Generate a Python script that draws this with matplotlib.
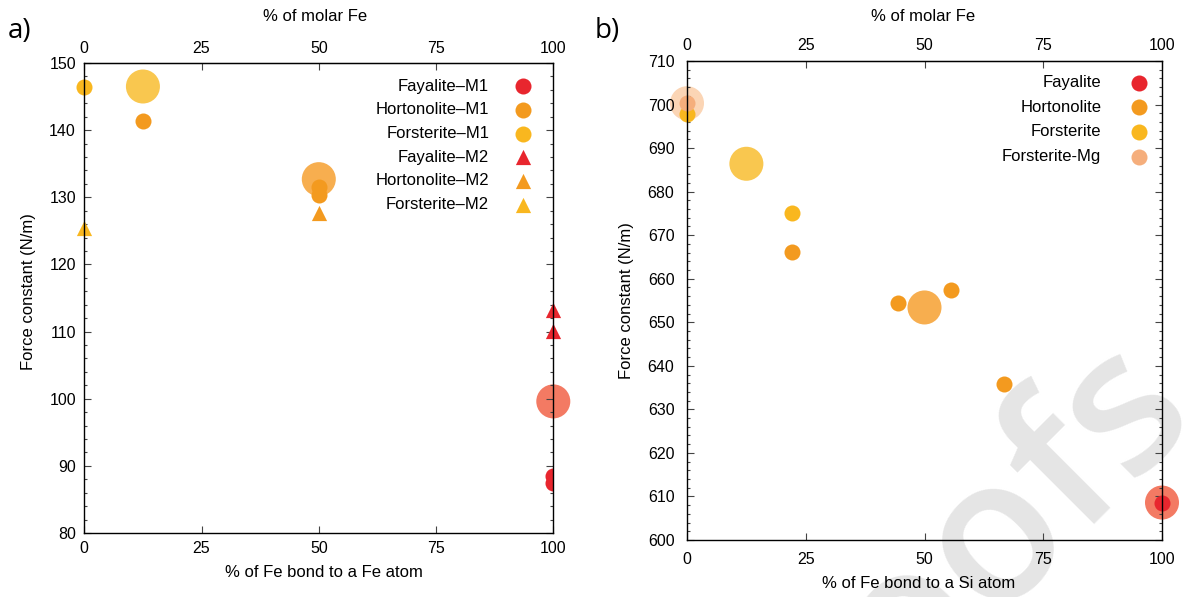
import matplotlib.pyplot as plt

plt.rcParams["font.family"] = ["Liberation Sans", "DejaVu Sans"]

RED = "#e8262e"
ORANGE = "#f39a1f"
YELLOW = "#f9b71f"
PEACH = "#f5ae7c"

# panel a) : % of Fe bonded to Fe atom vs force constant
fay_m1_x = [100, 100]
fay_m1_y = [88.5, 87.4]
hor_m1_x = [12.5, 50, 50]
hor_m1_y = [141.3, 131.6, 130.4]
for_m1_x = [0]
for_m1_y = [146.5]
fay_m2_x = [100, 100]
fay_m2_y = [113.2, 110.1]
hor_m2_x = [50]
hor_m2_y = [127.6]
for_m2_x = [0]
for_m2_y = [125.4]
# averages (big translucent circles)
avg_a_x = [100, 50, 12.5]
avg_a_y = [99.6, 132.7, 146.5]
avg_a_c = ["#f37a63", "#f7ae4f", "#f9c74f"]

# panel b) : % of Fe bonded to Si atom vs force constant
fay_x = [100]
fay_y = [608.6]
hor_x = [22.2, 44.4, 55.6, 66.7]
hor_y = [666.2, 654.4, 657.5, 635.8]
for_x = [0, 22.2]
for_y = [697.9, 675.0]
formg_x = [0]
formg_y = [700.4]
avg_b_x = [100, 50, 12.5, 0]
avg_b_y = [608.6, 653.4, 686.4, 700.3]
avg_b_c = ["#f37a63", "#f7ae4f", "#f9c74f", "#fbd5b5"]

xticks = [0, 25, 50, 75, 100]

SMALL = 133
BIG = 600
TRI = 120

fig = plt.figure(figsize=(11.84, 5.97), dpi=100)
ax1 = fig.add_axes([84.3 / 1184, 1 - 533 / 597, 469 / 1184, 470 / 597])
ax2 = fig.add_axes([687 / 1184, 1 - 540 / 597, 475 / 1184, 479 / 597])

# watermark behind everything
fig.text(939 / 1184, 1 - 588 / 597, "Proofs", fontsize=144, color="#e5e5e5",
         family=["Open Sans", "DejaVu Sans"], weight="semibold",
         rotation=45, rotation_mode="anchor", ha="center", va="center", zorder=-1)


def style(ax, ylim, ymajor, ypad, xpad, toppad):
    ax.set_facecolor("none")
    ax.set_xlim(0, 100)
    ax.set_ylim(*ylim)
    ax.set_xticks(xticks)
    ax.set_yticks(range(ylim[0], ylim[1] + 1, ymajor))
    ax.set_yticks(range(ylim[0], ylim[1] + 1, 2), minor=True)
    ax.tick_params(axis="both", which="both", direction="in", labelsize=11.5,
                   color="#444444", width=0.8)
    ax.tick_params(axis="y", which="both", right=True, pad=ypad)
    ax.tick_params(axis="x", pad=xpad, top=False)
    ax.tick_params(which="major", length=5)
    ax.tick_params(which="minor", length=2.5)
    for sp in ax.spines.values():
        sp.set_linewidth(1.0)
    sec = ax.secondary_xaxis("top")
    sec.set_xticks(xticks)
    sec.tick_params(direction="in", length=5, labelsize=11.5, color="#444444",
                    width=0.8, pad=toppad)
    return sec


sec1 = style(ax1, (80, 150), 10, 6, 6, 5)
sec2 = style(ax2, (600, 710), 10, 9, 9, 6)

# panel a
ax1.scatter(avg_a_x, avg_a_y, s=BIG, c=avg_a_c, linewidths=0, clip_on=False, zorder=1)
ax1.scatter(fay_m1_x, fay_m1_y, s=SMALL, color=RED, linewidths=0, label="Fayalite–M1", zorder=2)
ax1.scatter(hor_m1_x, hor_m1_y, s=SMALL, color=ORANGE, linewidths=0, label="Hortonolite–M1", zorder=2)
ax1.scatter(for_m1_x, for_m1_y, s=SMALL, color=YELLOW, linewidths=0, label="Forsterite–M1",
            clip_on=False, zorder=2)
ax1.scatter(fay_m2_x, fay_m2_y, s=TRI, marker="^", color=RED, linewidths=0,
            label="Fayalite–M2", clip_on=False, zorder=2)
ax1.scatter(hor_m2_x, hor_m2_y, s=TRI, marker="^", color=ORANGE, linewidths=0,
            label="Hortonolite–M2", zorder=2)
ax1.scatter(for_m2_x, for_m2_y, s=TRI, marker="^", color=YELLOW, linewidths=0,
            label="Forsterite–M2", clip_on=False, zorder=2)

# panel b
ax2.scatter(avg_b_x, avg_b_y, s=BIG, c=avg_b_c, linewidths=0, clip_on=False, zorder=1)
ax2.scatter(fay_x, fay_y, s=SMALL, color=RED, linewidths=0, label="Fayalite",
            clip_on=False, zorder=2)
ax2.scatter(hor_x, hor_y, s=SMALL, color=ORANGE, linewidths=0, label="Hortonolite", zorder=2)
ax2.scatter(for_x, for_y, s=SMALL, color=YELLOW, linewidths=0, label="Forsterite",
            clip_on=False, zorder=2)
ax2.scatter(formg_x, formg_y, s=SMALL, color=PEACH, linewidths=0, label="Forsterite-Mg",
            clip_on=False, zorder=2)


def right_legend(ax, handlelength, textpad, spacing, axpad):
    leg = ax.legend(loc="upper right", frameon=False, markerfirst=False, fontsize=12,
                    scatterpoints=1, handlelength=handlelength, handletextpad=textpad,
                    labelspacing=spacing, borderpad=0.4, borderaxespad=axpad)
    for col in leg._legend_handle_box.get_children():
        col.align = "right"
    return leg


right_legend(ax1, 1.7, 1.2, 0.52, 0.55)
right_legend(ax2, 1.05, 1.75, 0.58, 0.45)

# axis labels
ax1.set_xlabel("% of Fe bond to a Fe atom", fontsize=12)
ax1.xaxis.set_label_coords(0.51, -0.0845)
ax1.xaxis.label.set_va("center")
ax1.set_ylabel("Force constant (N/m)", fontsize=12)
ax1.yaxis.set_label_coords(-0.118, 0.513)
ax1.yaxis.label.set_va("center")
sec1.set_xlabel("% of molar Fe", fontsize=12)
sec1.xaxis.set_label_coords(0.493, 1.0985, transform=ax1.transAxes)
sec1.xaxis.label.set_va("center")

ax2.set_xlabel("% of Fe bond to a Si atom", fontsize=12)
ax2.xaxis.set_label_coords(0.4875, -0.0898)
ax2.xaxis.label.set_va("center")
ax2.set_ylabel("Force constant (N/m)", fontsize=12)
ax2.yaxis.set_label_coords(-0.128, 0.5)
ax2.yaxis.label.set_va("center")
sec2.set_xlabel("% of molar Fe", fontsize=12)
sec2.xaxis.set_label_coords(0.498, 1.0925, transform=ax2.transAxes)
sec2.xaxis.label.set_va("center")

fig.text(20 / 1184, 1 - 31 / 597, "a)", fontsize=20, family=["Open Sans", "DejaVu Sans"],
         ha="center", va="center")
fig.text(607 / 1184, 1 - 31 / 597, "b)", fontsize=20, family=["Open Sans", "DejaVu Sans"],
         ha="center", va="center")

fig.savefig("out.png", dpi=100)
